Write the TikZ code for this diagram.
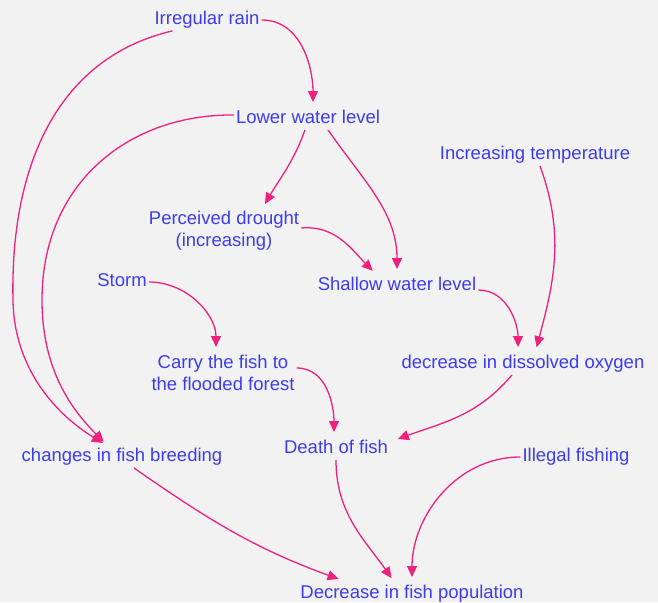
\documentclass[tikz,border=0pt]{standalone}
\usepackage{fontspec}
\setmainfont{Liberation Sans}
\usepackage{tikz}
\usetikzlibrary{arrows.meta,positioning,calc}
\usepackage{xcolor}
\definecolor{KPaper}{HTML}{F2F2F2}
\definecolor{KBlue}{HTML}{3C3CF0}
\definecolor{KPink}{HTML}{F0207F}

\tikzset{
  cause/.style={text=KBlue,inner sep=2pt,font=\fontsize{18.5}{22}\selectfont},
  oneline/.style={cause,text height=13.5pt,text depth=4pt},
  twoline/.style={cause,align=center},
  link/.style={draw=KPink,line width=1.3pt,shorten >=6pt,
               -{Triangle[length=11pt,width=10pt]}},
}

\begin{document}
\begin{tikzpicture}[x=1pt,y=1pt]
    \fill[KPaper] (0,0) rectangle (658,602);
    \useasboundingbox (0,0) rectangle (658,602);

    % factors
    \node[oneline] (rain)     at (207,582) {Irregular rain};
    \node[oneline] (lower)    at (308,483) {Lower water level};
    \node[oneline] (temp)     at (535,447) {Increasing temperature};
    \node[twoline] (drought)  at (224,371) {Perceived drought\\(increasing)};
    \node[oneline] (shallow)  at (397,316) {Shallow water level};
    \node[oneline] (storm)    at (122,320) {Storm};
    \node[twoline] (carry)    at (223,229) {Carry the fish to\\the flooded forest};
    \node[oneline] (oxygen)   at (523,238) {decrease in dissolved oxygen};
    \node[oneline] (breeding) at (122,145) {changes in fish breeding};
    \node[oneline] (death)    at (336,153) {Death of fish};
    \node[oneline] (illegal)  at (576,145) {Illegal fishing};
    \node[oneline] (population) at (412,8) {Decrease in fish population};

    % links
    \draw[link] (rain.east) to[out=0,in=90] ([xshift=5pt]lower.north);
    \draw[link] ([xshift=20pt]rain.south west)
        .. controls (60,545) and (10,440) .. (13,302)
        .. controls (14,230) and (60,185) .. ([xshift=-14pt]breeding.north);
    \draw[link] ([yshift=4pt]lower.west)
        .. controls (130,488) and (42,420) .. (42,302)
        .. controls (42,232) and (72,192) .. ([xshift=-14pt]breeding.north);
    \draw[link] ([xshift=-3pt]lower.south) to[out=-110,in=60] ([xshift=38pt]drought.north);
    \draw[link] ([xshift=20pt]lower.south) to[out=-55,in=90] (shallow.north);
    \draw[link] ([yshift=3pt]drought.east) to[out=5,in=135] ([xshift=-20pt]shallow.north);
    \draw[link] ([yshift=-4pt]shallow.east) to[out=0,in=90] ([xshift=-5pt]oxygen.north);
    \draw[link] ([xshift=5pt]temp.south) to[out=-70,in=75] ([xshift=12pt]oxygen.north);
    \draw[link] (storm.east) to[out=0,in=90] ([xshift=-7pt]carry.north);
    \draw[link] ([yshift=5pt]carry.east) to[out=0,in=90] ([xshift=-2pt]death.north);
    \draw[link] ([xshift=-11pt]oxygen.south) to[out=-130,in=20]
        ([xshift=2pt,yshift=-3pt]death.north east);
    \draw[link] ([xshift=12pt]breeding.south) to[out=-35,in=160]
        ([xshift=46pt,yshift=2pt]population.north west);
    \draw[link] (death.south) to[out=-90,in=125] ([xshift=-17pt]population.north);
    \draw[link] (illegal.west) to[out=180,in=90] (population.north);
\end{tikzpicture}
\end{document}
